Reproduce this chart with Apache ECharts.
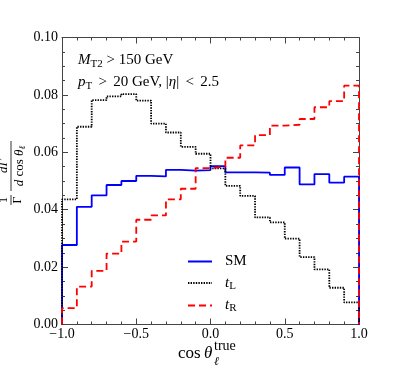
<!DOCTYPE html>
<html>
<head>
<meta charset="utf-8">
<script src="https://cdn.jsdelivr.net/npm/echarts@6/dist/echarts.min.js"></script>
<style>
  html, body { margin: 0; padding: 0; background: #fff; }
  #main { width: 399px; height: 372px; }
</style>
</head>
<body>
<div id="main"></div>
<script>
// 20 bins of width 0.1 on cos(theta) in [-1, 1]
const binLow = -1.0;
const binWidth = 0.1;

const smValues = [0.0277, 0.0410, 0.0450, 0.0486, 0.0500, 0.0518, 0.0516, 0.0539, 0.0536, 0.0538,
                  0.0552, 0.0530, 0.0530, 0.0529, 0.0521, 0.0547, 0.0488, 0.0524, 0.0494, 0.0515];
const tLValues = [0.0436, 0.0689, 0.0782, 0.0795, 0.0803, 0.0780, 0.0700, 0.0669, 0.0619, 0.0595,
                  0.0544, 0.0483, 0.0448, 0.0373, 0.0356, 0.0299, 0.0235, 0.0192, 0.0128, 0.0077];
const tRValues = [0.0057, 0.0132, 0.0187, 0.0247, 0.0289, 0.0365, 0.0380, 0.0436, 0.0473, 0.0545,
                  0.0550, 0.0581, 0.0624, 0.0660, 0.0693, 0.0696, 0.0716, 0.0757, 0.0778, 0.0832];

const seriesNames = ['SM', 't_L', 't_R'];
const xTicks = [-1.0, -0.5, 0.0, 0.5, 1.0];
const yTicks = [0.00, 0.02, 0.04, 0.06, 0.08, 0.10];

const serif = '"Liberation Serif", "DejaVu Serif", serif';

function edge(i) {
  return Math.round((binLow + i * binWidth) * 10) / 10;
}

// histogram outline, closed down to zero at both ends
function stepPoints(vals) {
  const pts = [[edge(0), 0]];
  vals.forEach((v, i) => {
    pts.push([edge(i), v], [edge(i + 1), v]);
  });
  pts.push([edge(vals.length), 0]);
  return pts;
}

function fmtX(v) {
  return (v < 0 ? '\u2212' : '') + Math.abs(v).toFixed(1);
}

const chart = echarts.init(document.getElementById('main'));

function axis(extra, minorSplit) {
  return Object.assign({
    type: 'value',
    axisLine: { show: true, onZero: false, lineStyle: { color: '#444', width: 1 } },
    axisTick: { show: true, inside: true, length: 6, lineStyle: { color: '#444' } },
    minorTick: { show: true, splitNumber: minorSplit, length: 3, lineStyle: { color: '#444' } },
    splitLine: { show: false }
  }, extra);
}

chart.setOption({
  animation: false,
  backgroundColor: '#fff',
  grid: { left: 62, right: 40, top: 37.5, bottom: 47.5 },
  xAxis: [
    axis({
      min: xTicks[0], max: xTicks[xTicks.length - 1], interval: 0.5, position: 'bottom',
      axisLabel: { formatter: fmtX, color: '#000', fontFamily: serif, fontSize: 14, margin: 3 }
    }, 5),
    axis({
      min: xTicks[0], max: xTicks[xTicks.length - 1], interval: 0.5, position: 'top',
      axisLabel: { show: false }
    }, 5)
  ],
  yAxis: [
    axis({
      min: yTicks[0], max: yTicks[yTicks.length - 1], interval: 0.02, position: 'left',
      axisLabel: { formatter: v => v.toFixed(2), color: '#000', fontFamily: serif, fontSize: 14, margin: 4 }
    }, 4),
    axis({
      min: yTicks[0], max: yTicks[yTicks.length - 1], interval: 0.02, position: 'right',
      axisLabel: { show: false }
    }, 4)
  ],
  legend: {
    orient: 'vertical',
    left: 182,
    top: 249,
    itemWidth: 24,
    itemHeight: 14,
    itemGap: 6.5,
    data: seriesNames,
    itemStyle: { opacity: 0 },
    formatter: function (name) {
      if (name === 't_L') return '{i|t}{s|L}';
      if (name === 't_R') return '{i|t}{s|R}';
      return name;
    },
    textStyle: {
      color: '#000', fontFamily: serif, fontSize: 15, padding: [0, 0, 0, 8],
      rich: {
        i: { fontStyle: 'italic', fontFamily: serif, fontSize: 15, color: '#000' },
        s: { fontFamily: serif, fontSize: 11, color: '#000', padding: [6, 0, 0, 0] }
      }
    }
  },
  series: [
    {
      name: 'SM', type: 'line', symbol: 'none', clip: false, z: 3,
      data: stepPoints(smValues),
      lineStyle: { color: '#0000ff', width: 1.8 },
      itemStyle: { color: '#0000ff' }
    },
    {
      name: 't_L', type: 'line', symbol: 'none', clip: false, z: 4,
      data: stepPoints(tLValues),
      lineStyle: { color: '#000', width: 1.8, type: [1.4, 1.2] },
      itemStyle: { color: '#000' }
    },
    {
      name: 't_R', type: 'line', symbol: 'none', clip: false, z: 5,
      data: stepPoints(tRValues),
      lineStyle: { color: '#ff0000', width: 1.8, type: [7, 4] },
      itemStyle: { color: '#ff0000' }
    }
  ],
  graphic: [
    {
      type: 'text', left: 78, top: 53,
      style: {
        text: '{i|M}{s|T2} > 150 GeV',
        font: '15px ' + serif, fill: '#000',
        rich: {
          i: { fontStyle: 'italic', fontFamily: serif, fontSize: 15 },
          s: { fontFamily: serif, fontSize: 11, padding: [7, 0, 0, 0] }
        }
      }
    },
    {
      type: 'text', left: 78, top: 75,
      style: {
        text: '{i|p}{s|T} \u2006>\u2006 20 GeV, |{i|η}| \u2006<\u2006 2.5',
        font: '15px ' + serif, fill: '#000',
        rich: {
          i: { fontStyle: 'italic', fontFamily: serif, fontSize: 15 },
          s: { fontFamily: serif, fontSize: 11, padding: [7, 0, 0, 0] }
        }
      }
    },
    // x axis title: cos theta_l^true
    {
      type: 'text', x: 178, y: 354,
      style: { text: 'cos', font: '17px ' + serif, fill: '#000', verticalAlign: 'middle' }
    },
    {
      type: 'text', x: 204, y: 354,
      style: { text: 'θ', font: 'italic 17px ' + serif, fill: '#000', verticalAlign: 'middle' }
    },
    {
      type: 'text', x: 214, y: 346,
      style: { text: 'true', font: '14px ' + serif, fill: '#000', verticalAlign: 'middle' }
    },
    {
      type: 'text', x: 214, y: 362,
      style: { text: 'ℓ', font: 'italic 12px ' + serif, fill: '#000', verticalAlign: 'middle' }
    },
    // y axis title: (1/Gamma) dGamma / d cos theta_l, rotated
    {
      type: 'group', x: 11, y: 172, rotation: Math.PI / 2,
      children: [
        { type: 'text', x: -28, y: -1, style: { text: '1', font: '12px ' + serif, fill: '#000', align: 'center', verticalAlign: 'bottom' } },
        { type: 'line', shape: { x1: -33, y1: 0, x2: -23, y2: 0 }, style: { stroke: '#000', lineWidth: 0.8 } },
        { type: 'text', x: -28, y: 1, style: { text: 'Γ', font: '12px ' + serif, fill: '#000', align: 'center', verticalAlign: 'top' } },
        { type: 'text', x: 6, y: -1, style: { text: 'dΓ', font: 'italic 13px ' + serif, fill: '#000', align: 'center', verticalAlign: 'bottom' } },
        { type: 'line', shape: { x1: -19, y1: 0, x2: 31, y2: 0 }, style: { stroke: '#000', lineWidth: 0.8 } },
        {
          type: 'text', x: 6, y: 1,
          style: {
            text: '{i|d} cos {i|θ}{s|ℓ}', font: '13px ' + serif, fill: '#000', align: 'center', verticalAlign: 'top',
            rich: {
              i: { fontStyle: 'italic', fontFamily: serif, fontSize: 13 },
              s: { fontStyle: 'italic', fontFamily: serif, fontSize: 9, padding: [6, 0, 0, 0] }
            }
          }
        }
      ]
    }
  ]
});
</script>
</body>
</html>
